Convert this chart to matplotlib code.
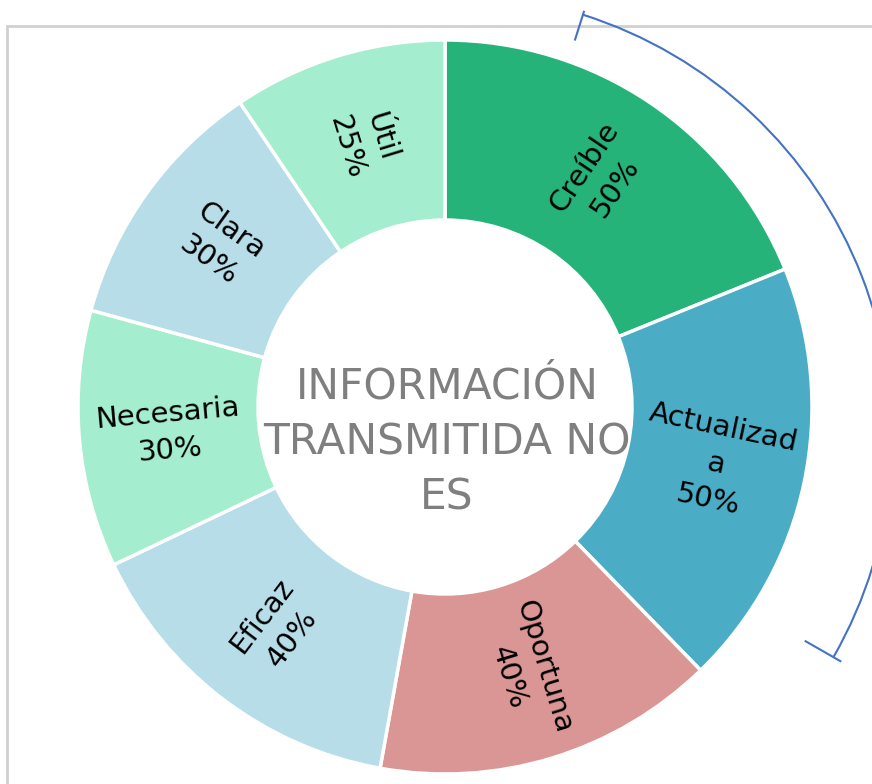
import numpy as np
import matplotlib
matplotlib.use("Agg")
import matplotlib.pyplot as plt
from matplotlib.patches import Arc, Rectangle

plt.rcParams['font.family'] = ['DejaVu Sans']

# data
labels = ['Creíble', 'Actualizad\na', 'Oportuna', 'Eficaz', 'Necesaria', 'Clara', 'Útil']
values = [50, 50, 40, 40, 30, 30, 25]
colors = ['#25B37A', '#4BACC6', '#D99694', '#B7DDE8', '#A4EDCE', '#B7DDE8', '#A4EDCE']
center_title = 'INFORMACIÓN\nTRANSMITIDA NO\nES'

W, H = 872, 784
fig = plt.figure(figsize=(W / 100, H / 100), dpi=100)
ax = fig.add_axes([0, 0, 1, 1])

cx, cy = 445, H - 407
R_out, ring = 367, 180

wedges, _ = ax.pie(values, colors=colors, startangle=90, counterclock=False,
                   center=(cx, cy), radius=R_out,
                   wedgeprops=dict(width=ring, edgecolor='white', linewidth=2.5))

# slice labels, radial orientation
for w, lab, v in zip(wedges, labels, values):
    mid = (w.theta1 + w.theta2) / 2
    r = w.r - ring / 2
    x = cx + r * np.cos(np.radians(mid))
    y = cy + r * np.sin(np.radians(mid))
    rot = (mid + 180) % 360 - 180
    if rot > 90:
        rot -= 180
    elif rot <= -90:
        rot += 180
    ax.text(x, y, f'{lab}\n{v}%', ha='center', va='center', rotation=rot,
            rotation_mode='anchor', fontsize=21, color='black', linespacing=1.4)

ax.text(cx + 2, cy - 35, center_title, ha='center', va='center', fontsize=30.5,
        color='#7F7F7F', linespacing=1.4)

# frame border
ax.add_patch(Rectangle((7, -10), W, H - 26 + 10, fill=False, edgecolor='#D0D0D0',
                       linewidth=2, zorder=0))

# bracket arc on the right
acx, acy, ar = 449, H - 437, 443
t1, t2 = -29.8, 72.4
ax.add_patch(Arc((acx, acy), 2 * ar, 2 * ar, theta1=t1, theta2=t2,
                 color='#4472C4', linewidth=1.5))
for t, (r0, r1) in [(t1, (ar - 32, ar + 8)), (t2, (ar - 26, ar + 3))]:
    c, s = np.cos(np.radians(t)), np.sin(np.radians(t))
    ax.plot([acx + r0 * c, acx + r1 * c], [acy + r0 * s, acy + r1 * s],
            color='#4472C4', linewidth=1.5)

ax.set_xlim(0, W)
ax.set_ylim(0, H)
ax.set_aspect('equal')
ax.axis('off')

fig.savefig('out.png', dpi=100)
